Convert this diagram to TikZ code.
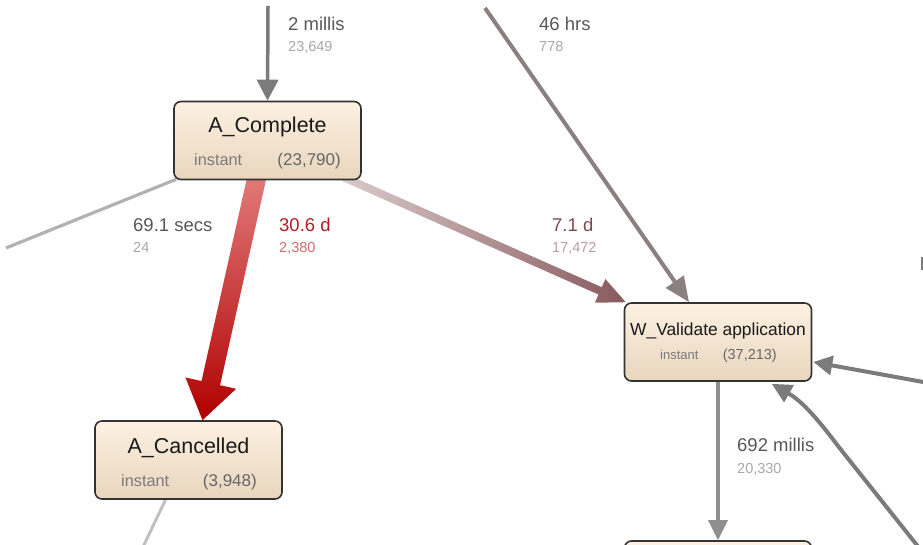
\documentclass[tikz,border=0pt]{standalone}
\usepackage{fontspec}
\setmainfont{Liberation Sans}
\usetikzlibrary{arrows.meta,calc}

\definecolor{boxtop}{HTML}{FDF1E2}
\definecolor{boxbot}{HTML}{E8D6BE}
\definecolor{boxline}{HTML}{333333}
\definecolor{titlecol}{HTML}{1A1A1A}
\definecolor{subcol}{HTML}{7A7A7A}
\definecolor{ncnt}{HTML}{666666}
\definecolor{labcol}{HTML}{585858}
\definecolor{cntcol}{HTML}{A8A8A8}
\definecolor{redlab}{HTML}{B01E23}
\definecolor{redcnt}{HTML}{D8696C}
\definecolor{brlab}{HTML}{7A4A4F}
\definecolor{brcnt}{HTML}{B89C9F}
\definecolor{edgegray}{HTML}{7B7B7B}
\definecolor{edgelight}{HTML}{B2B2B2}
\definecolor{edgepale}{HTML}{C0C0C0}
\definecolor{edgebrown}{HTML}{8A8080}
\definecolor{redtop}{HTML}{E27C7C}
\definecolor{redbot}{HTML}{B00000}
\definecolor{brA}{HTML}{DACACA}
\definecolor{brB}{HTML}{885A5E}

\pgfdeclarelayer{edges}
\pgfsetlayers{edges,main}

\tikzset{
  act/.style={draw=boxline, line width=1.6pt, rounded corners=7pt,
    top color=boxtop, bottom color=boxbot,
    minimum width=187pt, minimum height=78pt, inner sep=0pt},
  ttl/.style={anchor=base, inner sep=0pt, text=titlecol,
    font=\fontsize{21.5}{24}\selectfont},
  ttlsmall/.style={anchor=base, inner sep=0pt, text=titlecol,
    font=\fontsize{17.4}{20}\selectfont},
  sub/.style={anchor=base west, inner sep=0pt, text=subcol,
    font=\fontsize{16.3}{18}\selectfont},
  subcnt/.style={anchor=base east, inner sep=0pt, text=ncnt,
    font=\fontsize{17}{19}\selectfont},
  subsmall/.style={anchor=base west, inner sep=0pt, text=subcol,
    font=\fontsize{13}{15}\selectfont},
  subcntsmall/.style={anchor=base east, inner sep=0pt, text=ncnt,
    font=\fontsize{14.5}{16}\selectfont},
  elab/.style={anchor=base west, inner sep=0pt, text=labcol,
    font=\fontsize{18.5}{20}\selectfont},
  ecnt/.style={anchor=base west, inner sep=0pt, text=cntcol,
    font=\fontsize{14.5}{16}\selectfont},
  gedge/.style={draw=edgegray, fill=edgegray, line width=3.5pt},
  ledge/.style={draw=edgelight, line width=3.2pt},
  pedge/.style={draw=edgepale, line width=3pt},
  bedge/.style={draw=edgebrown, fill=edgebrown, line width=4pt},
}

% filled arrow with a tapered head, shaded along its length
\newcommand{\flowarrow}[6]{%
  \coordinate (fa-b) at ($(#2)!#4!(#1)$);
  \shade[#6] ($(#1)!#3!90:(#2)$) -- ($(fa-b)!#3!-90:(#1)$)
    -- ($(fa-b)!#5!-90:(#1)$) -- (#2) -- ($(fa-b)!#5!90:(#1)$)
    -- ($(fa-b)!#3!90:(#1)$) -- ($(#1)!#3!-90:(#2)$) -- cycle;
}

\begin{document}
\begin{tikzpicture}[x=1pt,y=-1pt]
\useasboundingbox (0,0) rectangle (923,545);
\clip (0,0) rectangle (923,545);

% activities
\node[act] (acomp) at (267.5,140.5) {};
\node[act] (acanc) at (188.5,460) {};
\node[act] (wval) at (718,342) {};
\node[act] (wnext) at (718,580) {};

\node[ttl] (acomp-t) at ($(acomp.center)+(0,-7.5)$) {A\_Complete};
\node[sub] (acomp-i) at ($(acomp.center)+(-73.5,25.5)$) {instant};
\node[subcnt] (acomp-n) at ($(acomp.center)+(73.5,25.5)$) {(23,790)};

\node[ttl] (acanc-t) at ($(acanc.center)+(0,-7)$) {A\_Cancelled};
\node[sub] (acanc-i) at ($(acanc.center)+(-67.5,26)$) {instant};
\node[subcnt] (acanc-n) at ($(acanc.center)+(68.5,26)$) {(3,948)};

\node[ttlsmall] (wval-t) at ($(wval.center)+(0,-7)$) {W\_Validate application};
\node[subsmall] (wval-i) at ($(wval.center)+(-58,17)$) {instant};
\node[subcntsmall] (wval-n) at ($(wval.center)+(59,17)$) {(37,213)};

% edge labels
\node[elab] (l1) at (288,31) {2 millis};
\node[ecnt] (c1) at (288,52) {23,649};
\node[elab] (l2) at (539,31) {46 hrs};
\node[ecnt] (c2) at (539,52) {778};
\node[elab] (l3) at (133,232) {69.1 secs};
\node[ecnt] (c3) at (133,253) {24};
\node[elab, text=redlab] (l4) at (279,232) {30.6 d};
\node[ecnt, text=redcnt] (c4) at (279,253) {2,380};
\node[elab, text=brlab] (l5) at (552,232) {7.1 d};
\node[ecnt, text=brcnt] (c5) at (552,253) {17,472};
\node[elab] (l6) at (737,451) {692 millis};
\node[ecnt] (c6) at (737,473) {20,330};

% edge leaving the frame on the right
\fill[edgegray] (921,257) rectangle (923,270);

\begin{pgfonlayer}{edges}
\clip (0,0) rectangle (923,545);

\coordinate (in-top) at (268,6);
\draw[gedge, -{Triangle[length=21pt,width=21pt]}] (in-top) -- (acomp.north);

\coordinate (out-left) at (6,248);
\draw[ledge] ($(acomp.south west)+(3,-1)$) -- (out-left);

\coordinate (red-s) at ($(acomp.south)+(-10,-6)$);
\coordinate (red-t) at ($(acanc.north)+(14,0)$);
\flowarrow{red-s}{red-t}{9.5pt}{38pt}{26pt}{top color=redtop,bottom color=redbot}

\coordinate (br-s) at ($(acomp.south east)+(-18,-3)$);
\coordinate (br-t) at ($(wval.north west)+(2,0)$);
\flowarrow{br-s}{br-t}{4pt}{28pt}{13pt}{left color=brA,right color=brB}

\coordinate (in-top2) at (485,8);
\draw[bedge, -{Triangle[length=25pt,width=21pt]}] (in-top2) -- ($(wval.north)+(-29,0)$);

\coordinate (in-right) at (926,382.5);
\draw[gedge, line width=4pt, -{Triangle[length=19pt,width=19pt]}]
  (in-right) -- ($(wval.east)+(1,20)$);

\coordinate (in-br) at (920,549);
\draw[gedge, line width=4pt, fill=none, -{Triangle[length=20pt,width=19pt,fill=edgegray]}]
  (in-br) -- (838,446) .. controls (814,414) and (800,400) .. ($(wval.south west)+(148,2)$);

\draw[gedge, draw=edgegray!85, -{Triangle[length=20pt,width=19pt]}] (wval.south) -- (wnext.north);

\coordinate (out-bot) at (142,549);
\draw[pedge] ($(acanc.south)+(-23,0)$) -- (out-bot);
\end{pgfonlayer}
\end{tikzpicture}
\end{document}
